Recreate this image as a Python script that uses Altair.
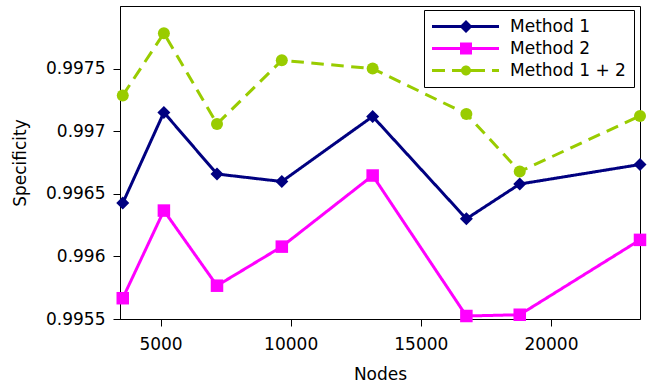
import altair as alt
import pandas as pd

# ---- data ----
nodes = [3550, 5130, 7170, 9660, 13150, 16750, 18800, 23420]
method1 = [0.996426, 0.99715, 0.996658, 0.996598, 0.997118, 0.996300, 0.996578, 0.996734]
method2 = [0.995666, 0.996366, 0.995766, 0.996078, 0.996646, 0.995524, 0.995534, 0.996132]
method12 = [0.997286, 0.997782, 0.997058, 0.997566, 0.997500, 0.997138, 0.996678, 0.997122]

series_names = ["Method 1", "Method 2", "Method 1 + 2"]
series_keys = ["m1", "m2", "m12"]
series_colors = ["#000080", "#ff00ff", "#99cc00"]
series_shapes = ["diamond", "square", "circle"]
series_sizes = [169, 144, 100]
series_dash = [[1, 0], [1, 0], [12.5, 7.5]]

x_ticks = [5000, 10000, 15000, 20000]
y_ticks = [0.9955, 0.996, 0.9965, 0.997, 0.9975]

rows = []
for name, key, vals in zip(series_names, series_keys, [method1, method2, method12]):
    for n, v in zip(nodes, vals):
        rows.append({"Nodes": n, "Specificity": v, "series": name, "key": key})
df = pd.DataFrame(rows)

FONT = "DejaVu Sans"

# legend symbols: line + marker drawn as a custom path
seg = lambda a, b: f"M{a},-0.3L{b},-0.3L{b},0.3L{a},0.3Z"
p_line = seg(-1.7, 11.7)
p1 = p_line + "M5.1,-1.3L6.4,0L5.1,1.3L3.8,0Z"
p2 = p_line + "M3.9,-1.2L6.3,-1.2L6.3,1.2L3.9,1.2Z"
p3 = seg(-1.7, 0.9) + seg(2.3, 8.9) + seg(10.3, 11.7) + "M6.1,0A1,1 0 1,1 4.1,0A1,1 0 1,1 6.1,0Z"
sym_expr = (f"datum.value == '{series_names[0]}' ? '{p1}' : "
            f"datum.value == '{series_names[1]}' ? '{p2}' : '{p3}'")

legend = alt.Legend(
    title=None, orient="none", legendX=304, legendY=4,
    padding=8, strokeColor="black", fillColor="white",
    symbolType={"expr": sym_expr}, symbolSize=100,
    symbolStrokeWidth=0, symbolOpacity=1,
    symbolFillColor={"expr": "scale('color', datum.value)"},
    labelOffset=61, labelFontSize=17, labelFont=FONT,
    labelColor="black", labelLimit=300, rowPadding=4)

x_enc = alt.X("Nodes:Q",
              scale=alt.Scale(domain=[3444, 23420], nice=False, zero=False),
              axis=alt.Axis(values=x_ticks, format="d", title="Nodes",
                            labelPadding=10, titlePadding=14))
y_enc = alt.Y("Specificity:Q",
              scale=alt.Scale(domain=[0.9955, 0.998], nice=False, zero=False),
              axis=alt.Axis(values=y_ticks, format=".4~f", title="Specificity",
                            labelPadding=8, titlePadding=16))
col_scale = alt.Scale(domain=series_names, range=series_colors)

lines = alt.Chart(df).mark_line(strokeWidth=3).encode(
    x=x_enc, y=y_enc,
    color=alt.Color("series:N", scale=col_scale, legend=legend),
    strokeDash=alt.StrokeDash("key:N",
                              scale=alt.Scale(domain=series_keys, range=series_dash),
                              legend=None),
)

points = alt.Chart(df).mark_point(filled=True, opacity=1).encode(
    x=x_enc, y=y_enc,
    color=alt.Color("series:N", scale=col_scale, legend=legend),
    shape=alt.Shape("key:N",
                    scale=alt.Scale(domain=series_keys, range=series_shapes),
                    legend=None),
    size=alt.Size("key:N",
                  scale=alt.Scale(domain=series_keys, range=series_sizes),
                  legend=None),
)

chart = alt.layer(lines, points).properties(
    width=520, height=313,
    autosize=alt.AutoSizeParams(type="none"),
    padding={"left": 120, "top": 6, "right": 16, "bottom": 67},
).configure(font=FONT).configure_view(
    stroke="black", strokeWidth=1
).configure_axis(
    grid=False, domainColor="black", tickColor="black", tickSize=7,
    labelFontSize=17, titleFontSize=17, labelColor="black", titleColor="black",
    labelFont=FONT, titleFont=FONT, titleFontWeight="normal",
)

chart.save("out.html", embed_options={"renderer": "svg", "actions": False})
